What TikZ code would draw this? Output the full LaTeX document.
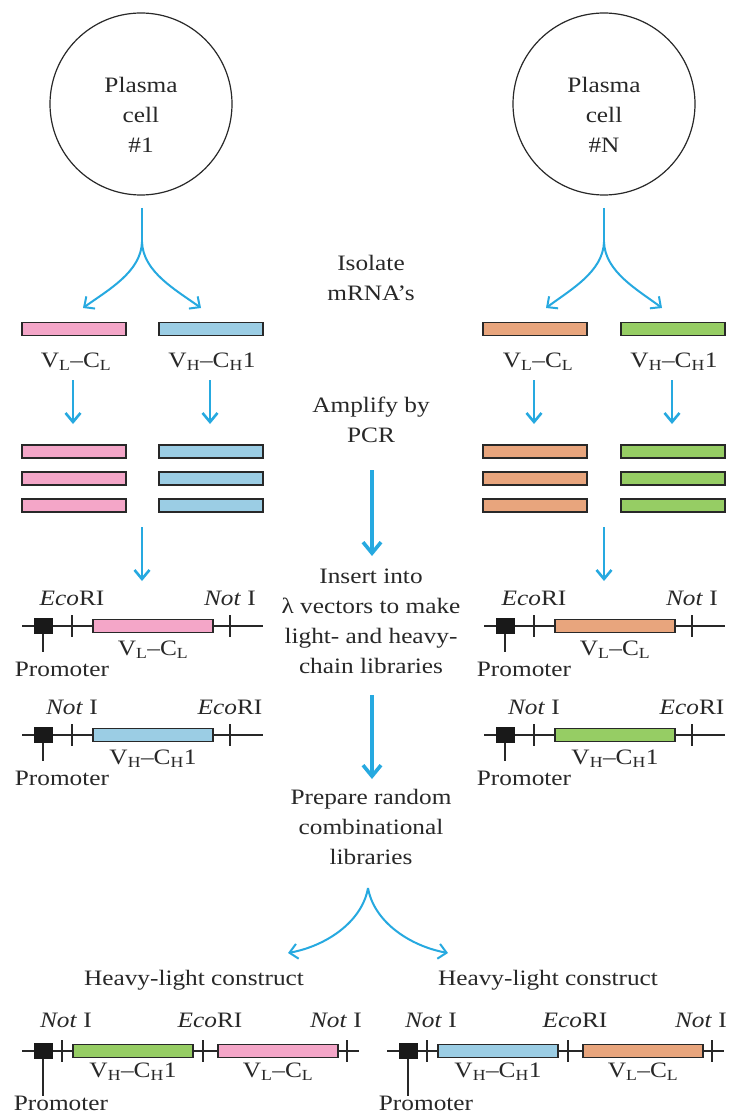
\documentclass[tikz,border=0pt]{standalone}
\usepackage{fontspec}
\setmainfont{Liberation Serif}[FakeStretch=1.15]
\usetikzlibrary{arrows.meta}
\definecolor{arrowblue}{RGB}{38,169,224}
\definecolor{pinkbar}{RGB}{244,166,200}
\definecolor{bluebar}{RGB}{155,205,228}
\definecolor{orangebar}{RGB}{232,165,125}
\definecolor{greenbar}{RGB}{150,205,100}
\definecolor{ink}{RGB}{40,40,40}
\tikzset{
  txt/.style={text=ink, inner sep=0pt, anchor=base, align=center},
  cellc/.style={circle, draw=ink, line width=1.2pt, minimum size=182pt, inner sep=0pt},
  seqbar/.style={draw=ink, line width=1.4pt, minimum width=104pt, minimum height=13pt, inner sep=0pt},
  vecbar/.style={draw=ink, line width=1.4pt, minimum height=13pt, inner sep=0pt},
  dnaline/.style={draw=ink, line width=1.4pt},
  promsq/.style={fill=black!90, draw=black!90, minimum width=18pt, minimum height=15pt, inner sep=0pt},
  arr/.style={draw=arrowblue, line width=2.6pt, -{Straight Barb[length=9pt,width=15pt]}},
  bigarr/.style={draw=arrowblue, line width=3.6pt, -{Straight Barb[length=11pt,width=18pt]}},
  fork/.style={draw=arrowblue, line width=2pt},
  forkarr/.style={draw=arrowblue, line width=2pt, -{Straight Barb[length=8pt,width=15pt]}},
  pics/vec/.style n args={4}{code={
    \draw[dnaline] (-21,0) -- (220,0);
    \draw[dnaline] (0,0) -- (0,26);
    \node[promsq] (-p) at (0,0) {};
    \draw[dnaline] (29,-11) -- (29,11);
    \draw[dnaline] (187,-11) -- (187,11);
    \node[vecbar, fill=#1, minimum width=120pt] (-bar) at (110,0) {};
    \node[txt] (-l1) at (29,-21) {#2};
    \node[txt] (-l2) at (187,-21) {#3};
    \node[txt] (-l3) at (110,29) {#4};
    \node[txt] (-pr) at (19,50) {Promoter};
  }},
  pics/combo/.style n args={2}{code={
    \draw[dnaline] (-21,0) -- (316,0);
    \draw[dnaline] (0,0) -- (0,45);
    \node[promsq] (-p) at (0,0) {};
    \draw[dnaline] (19,-11) -- (19,11);
    \draw[dnaline] (160,-11) -- (160,11);
    \draw[dnaline] (304,-11) -- (304,11);
    \node[vecbar, fill=#1, minimum width=120pt] (-bara) at (90,0) {};
    \node[vecbar, fill=#2, minimum width=120pt] (-barb) at (235,0) {};
    \node[txt] (-l1) at (23,-24) {\textit{Not} I};
    \node[txt] (-l2) at (167,-24) {\textit{Eco}RI};
    \node[txt] (-l3) at (293,-24) {\textit{Not} I};
    \node[txt] (-l4) at (90,26) {V\textsubscript{H}--C\textsubscript{H}1};
    \node[txt] (-l5) at (235,26) {V\textsubscript{L}--C\textsubscript{L}};
    \node[txt] (-pr) at (18,59) {Promoter};
  }}
}
\begin{document}
\begin{tikzpicture}[x=1pt,y=-1pt,font=\fontsize{22}{30}\selectfont]
\useasboundingbox (0,0) rectangle (728,1115);
\fill[white] (0,0) rectangle (728,1115);

% cells (multi-line nodes: base = last line)
\node[cellc] (c1) at (141,104) {};
\node[cellc] (cN) at (604,104) {};
\node[txt] (c1t) at (141,153) {Plasma\\cell\\\#1};
\node[txt] (cNt) at (604,153) {Plasma\\cell\\\#N};

% forks from cells
\coordinate (s1) at (142,208);
\coordinate (j1) at (142,242);
\coordinate (t1a) at (83,308);
\coordinate (t1b) at (201,308);
\coordinate (sN) at (604,208);
\coordinate (jN) at (604,242);
\coordinate (tNa) at (546,308);
\coordinate (tNb) at (662,308);
\draw[fork] (s1) -- (j1);
\draw[forkarr] (j1) .. controls (141,272) and (108,290) .. (t1a);
\draw[forkarr] (j1) .. controls (143,272) and (176,290) .. (t1b);
\draw[fork] (sN) -- (jN);
\draw[forkarr] (jN) .. controls (603,272) and (570,290) .. (tNa);
\draw[forkarr] (jN) .. controls (605,272) and (638,290) .. (tNb);

% centre texts
\node[txt] (iso) at (371,300) {Isolate\\mRNA's};
\node[txt] (amp) at (371,442) {Amplify by\\PCR};
\node[txt] (ins) at (371,673) {Insert into\\λ vectors to make\\light- and heavy-\\chain libraries};
\node[txt] (prep) at (371,864) {Prepare random\\combinational\\libraries};

\coordinate (m1a) at (372,470);
\coordinate (m1b) at (372,556);
\coordinate (m2a) at (372,695);
\coordinate (m2b) at (372,779);
\draw[bigarr] (m1a) -- (m1b);
\draw[bigarr] (m2a) -- (m2b);

% single mRNA bars
\node[seqbar, fill=pinkbar] (pA) at (74,329) {};
\node[seqbar, fill=bluebar] (bA) at (211,329) {};
\node[seqbar, fill=orangebar] (oA) at (535,329) {};
\node[seqbar, fill=greenbar] (gA) at (673,329) {};
\node[txt] (pAl) at (76,367) {V\textsubscript{L}--C\textsubscript{L}};
\node[txt] (bAl) at (212,367) {V\textsubscript{H}--C\textsubscript{H}1};
\node[txt] (oAl) at (538,367) {V\textsubscript{L}--C\textsubscript{L}};
\node[txt] (gAl) at (674,367) {V\textsubscript{H}--C\textsubscript{H}1};

% arrows to amplified
\coordinate (a1s) at (73,380); \coordinate (a1e) at (73,424);
\coordinate (a2s) at (210,380); \coordinate (a2e) at (210,424);
\coordinate (a3s) at (534,380); \coordinate (a3e) at (534,424);
\coordinate (a4s) at (672,380); \coordinate (a4e) at (672,424);
\draw[arr] (a1s) -- (a1e);
\draw[arr] (a2s) -- (a2e);
\draw[arr] (a3s) -- (a3e);
\draw[arr] (a4s) -- (a4e);

% amplified stacks
\foreach \yy/\k in {451.5/1,478.5/2,505.5/3}{
  \node[seqbar, fill=pinkbar] (p\k) at (74,\yy) {};
  \node[seqbar, fill=bluebar] (b\k) at (211,\yy) {};
  \node[seqbar, fill=orangebar] (o\k) at (535,\yy) {};
  \node[seqbar, fill=greenbar] (g\k) at (673,\yy) {};
}

% arrows to vectors
\coordinate (v1s) at (142,527); \coordinate (v1e) at (142,581);
\coordinate (v2s) at (604,527); \coordinate (v2e) at (604,581);
\draw[arr] (v1s) -- (v1e);
\draw[arr] (v2s) -- (v2e);

% lambda vectors
\pic (vLp) at (43,626) {vec={pinkbar}{\textit{Eco}RI}{\textit{Not} I}{V\textsubscript{L}--C\textsubscript{L}}};
\pic (vHb) at (43,735) {vec={bluebar}{\textit{Not} I}{\textit{Eco}RI}{V\textsubscript{H}--C\textsubscript{H}1}};
\pic (vLo) at (505,626) {vec={orangebar}{\textit{Eco}RI}{\textit{Not} I}{V\textsubscript{L}--C\textsubscript{L}}};
\pic (vHg) at (505,735) {vec={greenbar}{\textit{Not} I}{\textit{Eco}RI}{V\textsubscript{H}--C\textsubscript{H}1}};

% bottom fork
\coordinate (apex) at (368,888);
\coordinate (ba) at (288,953);
\coordinate (bb) at (448,953);
\draw[forkarr] (apex) .. controls (362,922) and (326,946) .. (ba);
\draw[forkarr] (apex) .. controls (374,922) and (410,946) .. (bb);

\node[txt] (hl1) at (194,985) {Heavy-light construct};
\node[txt] (hl2) at (548,985) {Heavy-light construct};

\pic (cmb1) at (43,1051) {combo={greenbar}{pinkbar}};
\pic (cmb2) at (408,1051) {combo={bluebar}{orangebar}};
\end{tikzpicture}
\end{document}
